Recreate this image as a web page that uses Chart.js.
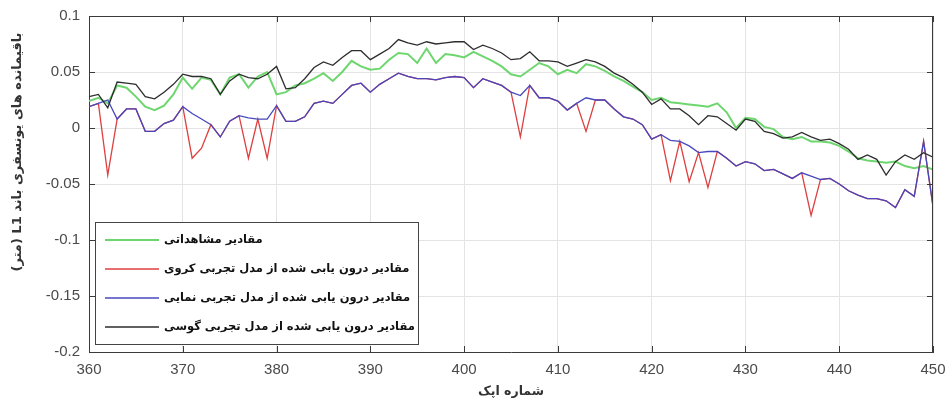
<!DOCTYPE html>
<html>
<head>
<meta charset="utf-8">
<script src="https://cdn.jsdelivr.net/npm/chart.js@4.4.1/dist/chart.umd.min.js"></script>
<style>
  html, body { margin: 0; padding: 0; background: #fff; }
  #wrap { width: 948px; height: 405px; }
</style>
</head>
<body>
<div id="wrap"><canvas id="chart" width="948" height="405"></canvas></div>
<script>
// epoch numbers (x axis)
const epochs = [
  360, 361, 362, 363, 364, 365, 366, 367, 368, 369,
  370, 371, 372, 373, 374, 375, 376, 377, 378, 379,
  380, 381, 382, 383, 384, 385, 386, 387, 388, 389,
  390, 391, 392, 393, 394, 395, 396, 397, 398, 399,
  400, 401, 402, 403, 404, 405, 406, 407, 408, 409,
  410, 411, 412, 413, 414, 415, 416, 417, 418, 419,
  420, 421, 422, 423, 424, 425, 426, 427, 428, 429,
  430, 431, 432, 433, 434, 435, 436, 437, 438, 439,
  440, 441, 442, 443, 444, 445, 446, 447, 448, 449,
  450
];

// observed values (green)
const observed = [
  0.024, 0.027, 0.022, 0.038, 0.036, 0.028, 0.019, 0.016, 0.020, 0.030,
  0.045, 0.035, 0.045, 0.043, 0.030, 0.045, 0.048, 0.036, 0.046, 0.050,
  0.030, 0.032, 0.038, 0.040, 0.044, 0.049, 0.042, 0.050, 0.060, 0.055,
  0.052, 0.053, 0.061, 0.067, 0.066, 0.058, 0.071, 0.058, 0.066, 0.065,
  0.063, 0.068, 0.064, 0.060, 0.055, 0.048, 0.046, 0.052, 0.058, 0.055,
  0.048, 0.052, 0.049, 0.057, 0.055, 0.051, 0.046, 0.042, 0.037, 0.032,
  0.025, 0.027, 0.023, 0.022, 0.021, 0.020, 0.019, 0.022, 0.014, 0.000,
  0.009, 0.008, 0.001, -0.001, -0.008, -0.010, -0.008, -0.012, -0.012, -0.013,
  -0.016, -0.021, -0.027, -0.029, -0.030, -0.031, -0.030, -0.034, -0.036, -0.034,
  -0.037
];

// spherical model (red)
const spherical = [
  0.019, 0.022, -0.042, 0.008, 0.017, 0.017, -0.003, -0.003, 0.004, 0.007,
  0.019, -0.027, -0.018, 0.003, -0.008, 0.006, 0.011, -0.027, 0.008, -0.027,
  0.020, 0.006, 0.006, 0.010, 0.022, 0.024, 0.022, 0.030, 0.038, 0.040,
  0.032, 0.039, 0.044, 0.049, 0.046, 0.044, 0.044, 0.043, 0.045, 0.046,
  0.045, 0.036, 0.044, 0.041, 0.038, 0.032, -0.008, 0.038, 0.027, 0.027,
  0.024, 0.016, 0.022, -0.003, 0.025, 0.025, 0.017, 0.010, 0.008, 0.003,
  -0.010, -0.006, -0.047, -0.012, -0.048, -0.022, -0.053, -0.021, -0.027, -0.034,
  -0.030, -0.032, -0.038, -0.037, -0.041, -0.045, -0.040, -0.078, -0.046, -0.045,
  -0.050, -0.056, -0.060, -0.063, -0.063, -0.065, -0.071, -0.055, -0.061, -0.012,
  -0.070
];

// exponential model (blue)
const exponential = [
  0.019, 0.022, 0.025, 0.008, 0.017, 0.017, -0.003, -0.003, 0.004, 0.007,
  0.019, 0.013, 0.008, 0.003, -0.008, 0.006, 0.011, 0.009, 0.008, 0.008,
  0.020, 0.006, 0.006, 0.010, 0.022, 0.024, 0.022, 0.030, 0.038, 0.040,
  0.032, 0.039, 0.044, 0.049, 0.046, 0.044, 0.044, 0.043, 0.045, 0.046,
  0.045, 0.036, 0.044, 0.041, 0.038, 0.032, 0.029, 0.038, 0.027, 0.027,
  0.024, 0.016, 0.022, 0.027, 0.025, 0.025, 0.017, 0.010, 0.008, 0.003,
  -0.010, -0.006, -0.011, -0.012, -0.016, -0.022, -0.021, -0.021, -0.027, -0.034,
  -0.030, -0.032, -0.038, -0.037, -0.041, -0.045, -0.040, -0.043, -0.046, -0.045,
  -0.050, -0.056, -0.060, -0.063, -0.063, -0.065, -0.071, -0.055, -0.061, -0.012,
  -0.070
];

// gaussian model (black)
const gaussian = [
  0.028, 0.030, 0.018, 0.041, 0.040, 0.039, 0.028, 0.026, 0.032, 0.039,
  0.048, 0.046, 0.046, 0.044, 0.030, 0.042, 0.048, 0.045, 0.044, 0.048,
  0.055, 0.035, 0.036, 0.044, 0.054, 0.059, 0.056, 0.063, 0.069, 0.069,
  0.061, 0.066, 0.071, 0.079, 0.076, 0.074, 0.077, 0.075, 0.076, 0.077,
  0.077, 0.070, 0.074, 0.071, 0.067, 0.061, 0.062, 0.068, 0.060, 0.060,
  0.059, 0.055, 0.058, 0.061, 0.059, 0.055, 0.049, 0.045, 0.039, 0.032,
  0.021, 0.026, 0.017, 0.017, 0.011, 0.003, 0.011, 0.010, 0.004, -0.002,
  0.008, 0.006, -0.003, -0.005, -0.009, -0.008, -0.004, -0.008, -0.011, -0.010,
  -0.014, -0.019, -0.028, -0.024, -0.028, -0.042, -0.030, -0.024, -0.028, -0.022,
  -0.026
];

const xTicks = [360, 370, 380, 390, 400, 410, 420, 430, 440, 450];
const yTicks = [-0.2, -0.15, -0.1, -0.05, 0, 0.05, 0.1];
const yTickLabels = ['-0.2', '-0.15', '-0.1', '-0.05', '0', '0.05', '0.1'];

const seriesLabels = [
  'مقادیر مشاهداتی',
  'مقادیر درون یابی شده از مدل تجربی کروی',
  'مقادیر درون یابی شده از مدل تجربی نمایی',
  'مقادیر درون یابی شده از مدل تجربی گوسی'
];
const seriesColors = ['rgb(110,214,110)', 'rgb(222,64,64)', 'rgb(72,72,190)', 'rgb(45,45,45)'];
const xTitle = 'شماره اپک';
const yTitle = 'باقیمانده های یونسفری باند L1 (متر)';

const persianFont = '"DejaVu Sans", sans-serif';
const axisColor = '#3a3a3a';

// box, inward ticks on all four sides (matlab look)
const framePlugin = {
  id: 'frame',
  afterDatasetsDraw(chart) {
    const {ctx, chartArea: a, scales} = chart;
    ctx.save();
    ctx.strokeStyle = axisColor;
    ctx.lineWidth = 1;
    ctx.beginPath();
    ctx.moveTo(a.left, a.top + 0.5);
    ctx.lineTo(a.right, a.top + 0.5);
    ctx.moveTo(a.right - 0.5, a.top);
    ctx.lineTo(a.right - 0.5, a.bottom);
    const len = 6;
    xTicks.forEach(v => {
      const px = Math.round(scales.x.getPixelForValue(v)) + 0.5;
      ctx.moveTo(px, a.bottom); ctx.lineTo(px, a.bottom - len);
      ctx.moveTo(px, a.top); ctx.lineTo(px, a.top + len);
    });
    yTicks.forEach(v => {
      const py = Math.round(scales.y.getPixelForValue(v)) + 0.5;
      ctx.moveTo(a.left, py); ctx.lineTo(a.left + len, py);
      ctx.moveTo(a.right, py); ctx.lineTo(a.right - len, py);
    });
    ctx.stroke();
    ctx.restore();
  },
  afterDraw(chart) {
    const ctx = chart.ctx;
    ctx.save();

    // legend box inside the plot
    const box = {x: 95.5, y: 222.5, w: 323, h: 122};
    ctx.fillStyle = '#fff';
    ctx.fillRect(box.x, box.y, box.w, box.h);
    ctx.strokeStyle = '#444';
    ctx.lineWidth = 1;
    ctx.strokeRect(box.x, box.y, box.w, box.h);

    const rows = [240, 269, 298, 327];
    ctx.font = 'bold 11.5px ' + persianFont;
    ctx.direction = 'rtl';
    ctx.textAlign = 'left';
    ctx.textBaseline = 'middle';
    seriesLabels.forEach((lbl, i) => {
      ctx.strokeStyle = seriesColors[i];
      ctx.lineWidth = i === 0 ? 2 : 1.4;
      ctx.beginPath();
      ctx.moveTo(105, rows[i]);
      ctx.lineTo(159, rows[i]);
      ctx.stroke();
      ctx.fillStyle = '#111';
      ctx.fillText(lbl, 164, rows[i]);
    });

    // axis titles
    ctx.fillStyle = '#333';
    ctx.font = 'bold 12.5px ' + persianFont;
    ctx.textAlign = 'center';
    ctx.fillText(xTitle, 511, 392);

    ctx.font = 'bold 13px ' + persianFont;
    ctx.translate(18, 152);
    ctx.rotate(-Math.PI / 2);
    ctx.fillText(yTitle, 0, 0);
    ctx.restore();
  }
};

const ctx = document.getElementById('chart').getContext('2d');
new Chart(ctx, {
  type: 'line',
  data: {
    labels: epochs,
    datasets: [
      {label: seriesLabels[0], data: observed, borderColor: seriesColors[0], borderWidth: 2, order: 4},
      {label: seriesLabels[1], data: spherical, borderColor: seriesColors[1], borderWidth: 1.3, order: 3},
      {label: seriesLabels[2], data: exponential, borderColor: seriesColors[2], borderWidth: 1.3, order: 2},
      {label: seriesLabels[3], data: gaussian, borderColor: seriesColors[3], borderWidth: 1.3, order: 1}
    ]
  },
  options: {
    responsive: false,
    animation: false,
    devicePixelRatio: 1,
    layout: { padding: { top: 16, right: 15, left: 0, bottom: 0 } },
    elements: {
      point: { radius: 0 },
      line: { tension: 0, fill: false }
    },
    plugins: {
      legend: { display: false },
      tooltip: { enabled: false }
    },
    scales: {
      x: {
        type: 'linear',
        min: 360,
        max: 450,
        afterBuildTicks: s => { s.ticks = xTicks.map(v => ({value: v})); },
        afterFit: s => { s.height = 53; s.paddingLeft = 0; s.paddingRight = 0; },
        grid: { color: '#e4e4e4', drawTicks: false },
        border: { display: true, color: axisColor, width: 1 },
        ticks: {
          padding: 9,
          color: '#4a4a4a',
          font: { family: '"Liberation Sans", Arial, sans-serif', size: 15 },
          maxRotation: 0,
          callback: v => String(v)
        }
      },
      y: {
        min: -0.2,
        max: 0.1,
        afterBuildTicks: s => { s.ticks = yTicks.map(v => ({value: v})); },
        afterFit: s => { s.width = 89; s.paddingTop = 0; s.paddingBottom = 0; },
        grid: { color: '#e4e4e4', drawTicks: false },
        border: { display: true, color: axisColor, width: 1 },
        ticks: {
          padding: 9,
          color: '#4a4a4a',
          font: { family: '"Liberation Sans", Arial, sans-serif', size: 15 },
          callback: (v, i) => yTickLabels[i]
        }
      }
    }
  },
  plugins: [framePlugin]
});
</script>
</body>
</html>
